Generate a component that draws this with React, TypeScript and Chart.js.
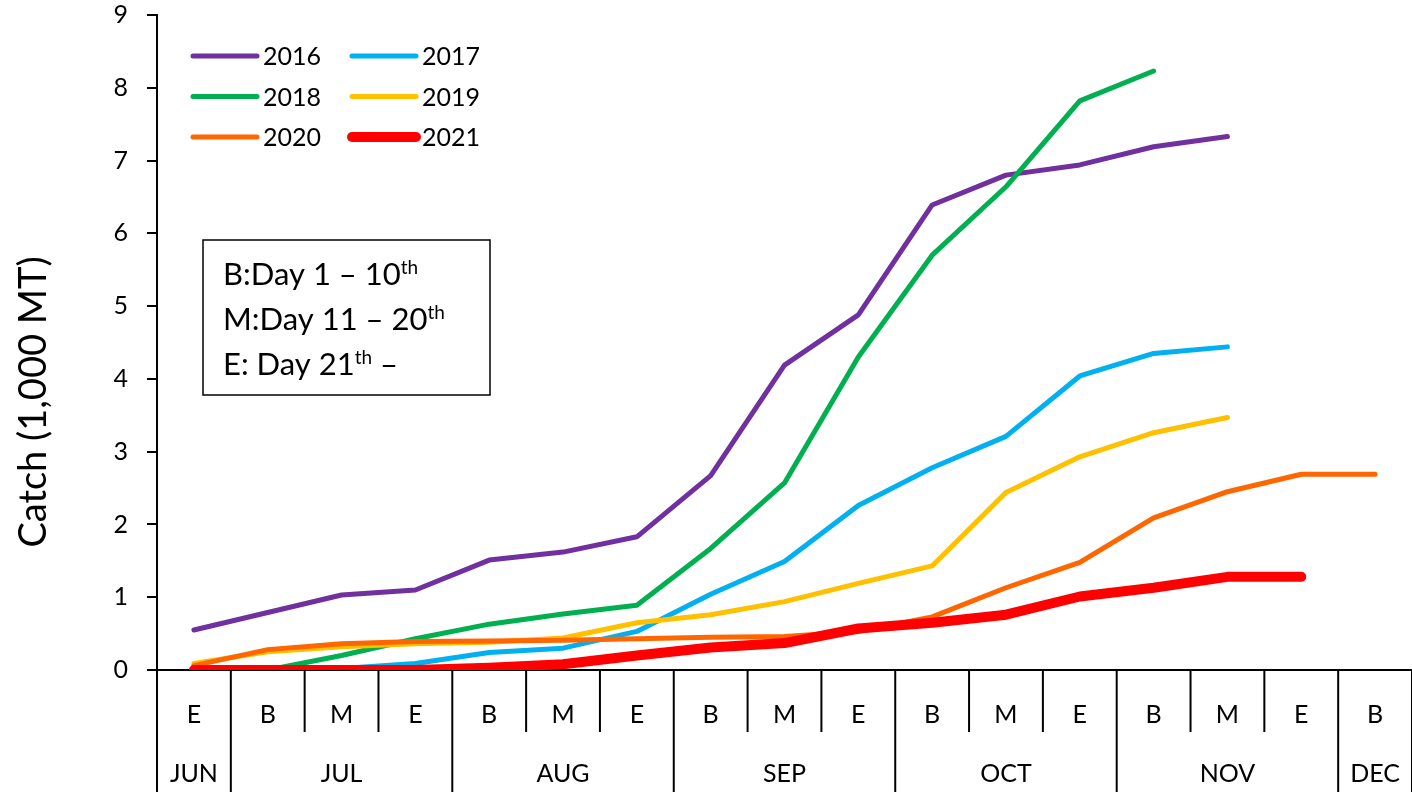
import React, { useEffect, useRef } from "react";
import { Chart, registerables } from "chart.js";

Chart.register(...registerables);

const CATS = ["E", "B", "M", "E", "B", "M", "E", "B", "M", "E", "B", "M", "E", "B", "M", "E", "B"];
const MONTHS = ["JUN", "JUL", "AUG", "SEP", "OCT", "NOV", "DEC"];
const MONTH_SPANS = [1, 3, 3, 3, 3, 3, 1];

const S2016 = [0.55, 0.79, 1.03, 1.1, 1.51, 1.62, 1.83, 2.67, 4.19, 4.88, 6.39, 6.8, 6.94, 7.19, 7.33, null, null];
const S2017 = [0, 0, 0.02, 0.09, 0.24, 0.3, 0.53, 1.04, 1.49, 2.26, 2.78, 3.21, 4.04, 4.35, 4.44, null, null];
const S2018 = [0, 0, 0.2, 0.43, 0.63, 0.77, 0.89, 1.67, 2.57, 4.3, 5.7, 6.64, 7.82, 8.23, null, null, null];
const S2019 = [0.09, 0.25, 0.32, 0.36, 0.38, 0.44, 0.65, 0.76, 0.94, 1.19, 1.43, 2.44, 2.93, 3.26, 3.47, null, null];
const S2020 = [0.06, 0.28, 0.36, 0.39, 0.4, 0.41, 0.43, 0.45, 0.46, 0.53, 0.73, 1.13, 1.48, 2.09, 2.45, 2.69, 2.69];
const S2021 = [0, 0, 0, 0, 0.03, 0.08, 0.2, 0.31, 0.37, 0.57, 0.65, 0.76, 1.01, 1.13, 1.28, 1.28, null];

const SERIES_NAMES = ["2016", "2017", "2018", "2019", "2020", "2021"];
const SERIES_DATA = [S2016, S2017, S2018, S2019, S2020, S2021];
const SERIES_COLORS = ["#7030A0", "#00B0F0", "#00B050", "#FFC000", "#FF6600", "#FF0000"];
const SERIES_WIDTHS = [5, 5, 5, 5, 5, 10];
const SERIES_ORDER = [5, 4, 3, 2, 1, 0];

const Y_TITLE = "Catch (1,000 MT)";
const NOTE_LINES: [string, boolean][][] = [
  [["B:Day 1 \u2013 10", false], ["th", true]],
  [["M:Day 11 \u2013 20", false], ["th", true]],
  [["E: Day 21", false], ["th", true], [" \u2013", false]],
];

const FONT = "Lato, 'Open Sans', sans-serif";

function drawRich(ctx: CanvasRenderingContext2D, parts: [string, boolean][], x: number, y: number, size: number) {
  let cx = x;
  for (const [t, sup] of parts) {
    ctx.font = sup ? `${Math.round(size * 0.6)}px ${FONT}` : `${size}px ${FONT}`;
    ctx.fillText(t, cx, sup ? y - size * 0.36 : y);
    cx += ctx.measureText(t).width;
  }
}

const decorPlugin = {
  id: "decor",
  afterDraw(chart: any) {
    const { ctx, chartArea } = chart;
    const x = chart.scales.x;
    const n = CATS.length;
    const w = x.getPixelForValue(1) - x.getPixelForValue(0);
    const axisY = chartArea.bottom;
    ctx.save();
    ctx.strokeStyle = "#000";
    ctx.fillStyle = "#000";
    ctx.lineWidth = 2;
    const monthBounds = new Set<number>();
    let acc = 0;
    monthBounds.add(0);
    for (const s of MONTH_SPANS) {
      acc += s;
      monthBounds.add(acc);
    }
    for (let i = 0; i <= n; i++) {
      const bx = i < n ? x.getPixelForValue(i) - w / 2 : x.getPixelForValue(n - 1) + w / 2;
      const isMonth = monthBounds.has(i);
      ctx.beginPath();
      ctx.moveTo(bx, axisY);
      ctx.lineTo(bx, isMonth ? chart.height : axisY + 62);
      ctx.stroke();
    }
    ctx.font = `25px ${FONT}`;
    ctx.textAlign = "center";
    ctx.textBaseline = "middle";
    let start = 0;
    MONTHS.forEach((m, k) => {
      const end = start + MONTH_SPANS[k] - 1;
      const cx = (x.getPixelForValue(start) + x.getPixelForValue(end)) / 2;
      ctx.fillText(m, cx, 774);
      start += MONTH_SPANS[k];
    });
    ctx.save();
    ctx.translate(34, 402);
    ctx.rotate(-Math.PI / 2);
    ctx.font = `38px ${FONT}`;
    ctx.textAlign = "center";
    ctx.textBaseline = "middle";
    ctx.fillText(Y_TITLE, 0, 0);
    ctx.restore();
    ctx.font = `25px ${FONT}`;
    ctx.textAlign = "left";
    ctx.textBaseline = "middle";
    ctx.lineCap = "round";
    SERIES_NAMES.forEach((name, i) => {
      const col = i % 2;
      const row = Math.floor(i / 2);
      const lx = col === 0 ? 193 : 352;
      const ly = 56 + row * 40.5;
      ctx.strokeStyle = SERIES_COLORS[i];
      ctx.lineWidth = SERIES_WIDTHS[i];
      ctx.beginPath();
      ctx.moveTo(lx, ly);
      ctx.lineTo(lx + 64, ly);
      ctx.stroke();
      ctx.fillStyle = "#000";
      ctx.fillText(name, lx + 70, ly + 1);
    });
    ctx.strokeStyle = "#000";
    ctx.lineWidth = 1.5;
    ctx.strokeRect(203, 240, 287, 155);
    ctx.textBaseline = "alphabetic";
    ctx.textAlign = "left";
    NOTE_LINES.forEach((parts, i) => {
      drawRich(ctx, parts, 223, 285 + i * 45, 31);
    });
    ctx.restore();
  },
};

export default function App() {
  const ref = useRef<HTMLCanvasElement>(null);
  useEffect(() => {
    document.body.style.margin = "0";
    let chart: Chart | null = null;
    let cancelled = false;
    const make = () => {
      if (cancelled || !ref.current) return;
      chart = new Chart(ref.current, {
        type: "line",
        data: {
          labels: CATS,
          datasets: SERIES_NAMES.map((name, i) => ({
            label: name,
            data: SERIES_DATA[i],
            borderColor: SERIES_COLORS[i],
            backgroundColor: SERIES_COLORS[i],
            borderWidth: SERIES_WIDTHS[i],
            borderCapStyle: "round",
            borderJoinStyle: "round",
            pointRadius: 0,
            tension: 0,
            fill: false,
            order: SERIES_ORDER[i],
          })),
        },
        options: {
          animation: false,
          responsive: true,
          maintainAspectRatio: false,
          layout: { padding: { top: 15, left: 0, right: 0, bottom: 0 } },
          plugins: { legend: { display: false }, tooltip: { enabled: false }, title: { display: false } },
          scales: {
            x: {
              type: "category",
              offset: true,
              grid: { display: false, drawTicks: false, offset: true },
              border: { display: true, color: "#000", width: 2 },
              ticks: {
                color: "#000",
                font: { family: FONT, size: 25 },
                padding: 30,
                autoSkip: false,
                maxRotation: 0,
              },
              afterFit: (s: any) => {
                s.height = 122;
                s.paddingLeft = 0;
                s.paddingRight = 0;
              },
            },
            y: {
              min: 0,
              max: 9,
              grid: { display: true, drawOnChartArea: false, drawTicks: true, tickLength: 10, color: "#000", lineWidth: 2 },
              border: { display: true, color: "#000", width: 2 },
              ticks: {
                stepSize: 1,
                color: "#000",
                font: { family: FONT, size: 25 },
                padding: 19,
              },
              afterFit: (s: any) => {
                s.width = 157;
                s.paddingTop = 0;
                s.paddingBottom = 0;
              },
            },
          },
        },
        plugins: [decorPlugin],
      } as any);
    };
    const fontsReady = (document as any).fonts
      ? Promise.all([
          (document as any).fonts.load(`25px Lato`),
          (document as any).fonts.load(`38px Lato`),
        ]).catch(() => null)
      : Promise.resolve(null);
    fontsReady.then(make);
    return () => {
      cancelled = true;
      if (chart) chart.destroy();
    };
  }, []);
  return (
    <div style={{ width: 1412, height: 792, position: "relative" }}>
      <canvas ref={ref} />
    </div>
  );
}
